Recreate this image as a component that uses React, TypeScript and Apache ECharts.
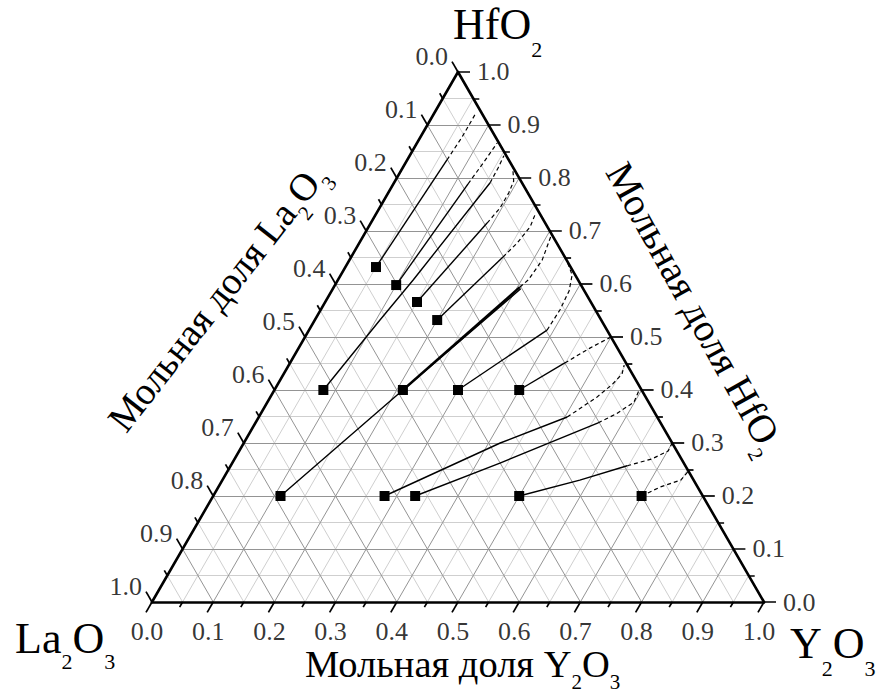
import React, { useEffect, useRef } from 'react';
import * as echarts from 'echarts';

const SQ3 = Math.sqrt(3) / 2;

// ---- axis ticks (mole fraction) ----
const majorTicks = [0, 0.1, 0.2, 0.3, 0.4, 0.5, 0.6, 0.7, 0.8, 0.9, 1.0];
const tickLabels = ['0.0', '0.1', '0.2', '0.3', '0.4', '0.5', '0.6', '0.7', '0.8', '0.9', '1.0'];
const minorTicks = [0.05, 0.15, 0.25, 0.35, 0.45, 0.55, 0.65, 0.75, 0.85, 0.95];

// ---- data: points are [Y2O3, HfO2] mole fractions (La2O3 = rest) ----
const startPoints = [
  [0.05, 0.632], [0.10, 0.598], [0.15, 0.566], [0.20, 0.532],
  [0.08, 0.40], [0.21, 0.40], [0.30, 0.40], [0.40, 0.40],
  [0.11, 0.20], [0.28, 0.20], [0.33, 0.20], [0.50, 0.20], [0.70, 0.20],
];

const pathA_solid = [[0.05, 0.632], [0.065, 0.834]];
const pathA_dash = [[0.065, 0.834], [0.068, 0.877], [0.068, 0.923]];
const pathB_solid = [[0.10, 0.598], [0.122, 0.789]];
const pathB_dash = [[0.122, 0.789], [0.127, 0.828], [0.131, 0.866]];
const pathE_solid = [[0.08, 0.40], [0.1065, 0.532], [0.123, 0.6075], [0.157, 0.791]];
const pathE_dash = [[0.157, 0.791], [0.156, 0.819], [0.154, 0.842]];
const pathC_solid = [[0.15, 0.566], [0.19, 0.715]];
const pathC_dash = [[0.19, 0.715], [0.197, 0.743], [0.197, 0.772], [0.194, 0.794], [0.18, 0.819]];
const pathD_solid = [[0.20, 0.532], [0.248, 0.651]];
const pathD_dash = [[0.248, 0.651], [0.258, 0.677], [0.264, 0.708], [0.26, 0.734]];
const pathF_solid = [[0.21, 0.40], [0.304, 0.594]];
const pathF_dash = [[0.304, 0.594], [0.311, 0.608], [0.315, 0.645], [0.306, 0.694]];
const pathI_solid = [[0.11, 0.20], [0.21, 0.40], [0.307, 0.591]];
const pathG_solid = [[0.30, 0.40], [0.389, 0.513]];
const pathG_dash = [[0.389, 0.513], [0.391, 0.551], [0.388, 0.587], [0.378, 0.617], [0.355, 0.645]];
const pathH_solid = [[0.40, 0.40], [0.449, 0.451]];
const pathH_dash = [[0.449, 0.451], [0.476, 0.479], [0.50, 0.50]];
const pathJ_solid = [[0.28, 0.20], [0.419, 0.30], [0.504, 0.349]];
const pathJ_dash = [[0.504, 0.349], [0.534, 0.387], [0.547, 0.411], [0.553, 0.43], [0.548, 0.447]];
const pathK_solid = [[0.33, 0.20], [0.4375, 0.262], [0.56, 0.338]];
const pathK_dash = [[0.56, 0.338], [0.581, 0.355], [0.599, 0.377], [0.596, 0.40]];
const pathL_solid = [[0.50, 0.20], [0.584, 0.23], [0.648, 0.257]];
const pathL_dash = [[0.648, 0.257], [0.682, 0.27], [0.701, 0.285], [0.70, 0.30]];
const pathM_dash = [[0.70, 0.20], [0.722, 0.217], [0.749, 0.23], [0.753, 0.247]];

const solidPaths = [pathA_solid, pathB_solid, pathE_solid, pathC_solid, pathD_solid, pathF_solid,
  pathI_solid, pathG_solid, pathH_solid, pathJ_solid, pathK_solid, pathL_solid];
const dashedPaths = [pathA_dash, pathB_dash, pathE_dash, pathC_dash, pathD_dash, pathF_dash,
  pathG_dash, pathH_dash, pathJ_dash, pathK_dash, pathL_dash, pathM_dash];

// ---- helpers ----
const FONT = '"Liberation Serif", "Times New Roman", serif';
const PX = 612; // pixels per unit of triangle side

function tern(p: number[]): [number, number] {
  return [p[0] + p[1] / 2, p[1] * SQ3];
}

function gridSegments(vals: number[]) {
  const segs: any[] = [];
  vals.forEach((v) => {
    segs.push({ coords: [tern([0, v]), tern([1 - v, v])] });
    segs.push({ coords: [tern([v, 0]), tern([v, 1 - v])] });
    segs.push({ coords: [tern([1 - v, 0]), tern([0, 1 - v])] });
  });
  return segs;
}

function tickSegments(vals: number[], len: number) {
  const d = len / PX;
  const segs: any[] = [];
  vals.forEach((v) => {
    const b = tern([v, 0]);
    segs.push({ coords: [b, [b[0] - 0.5 * d, b[1] - SQ3 * d]] });
    const r = tern([1 - v, v]);
    segs.push({ coords: [r, [r[0] + d, r[1]]] });
    const l = tern([0, 1 - v]);
    segs.push({ coords: [l, [l[0] - 0.5 * d, l[1] + SQ3 * d]] });
  });
  return segs;
}

function titleGroup(pieces: [string, boolean][], size: number, subSize: number, subDy: number,
  x: number, y: number, rotation: number, center: boolean) {
  const ctx = document.createElement('canvas').getContext('2d') as CanvasRenderingContext2D;
  let cur = 0;
  const kids: any[] = [];
  pieces.forEach(([t, sub]) => {
    const fs = sub ? subSize : size;
    const font = `${fs}px ${FONT}`;
    ctx.font = font;
    const w = ctx.measureText(t).width;
    kids.push({
      type: 'text', x: cur, y: sub ? subDy : 0,
      style: { text: t, font, fill: '#000', align: 'left', verticalAlign: 'middle', textAlign: 'left', textVerticalAlign: 'middle' },
    });
    cur += w;
  });
  if (center) kids.forEach((k) => { k.x -= cur / 2; });
  return { type: 'group', x, y, rotation, children: kids, silent: true };
}

export default function App() {
  const ref = useRef<HTMLDivElement>(null);
  useEffect(() => {
    if (!ref.current) return;
    const chart = echarts.init(ref.current, undefined, { renderer: 'svg' });
    const deg = Math.PI / 180;

    const labelBase = { show: true, formatter: '{b}', color: '#000', fontFamily: FONT, fontSize: 26, position: 'inside' };
    const transparent = { color: 'rgba(0,0,0,0)' };

    const series: any[] = [
      {
        type: 'lines', coordinateSystem: 'cartesian2d', silent: true, z: 1,
        lineStyle: { color: '#cfcfcf', width: 1, opacity: 1 },
        data: gridSegments(minorTicks),
      },
      {
        type: 'lines', coordinateSystem: 'cartesian2d', silent: true, z: 2,
        lineStyle: { color: '#949494', width: 1, opacity: 1 },
        data: gridSegments(majorTicks.slice(1, -1)),
      },
      {
        type: 'lines', coordinateSystem: 'cartesian2d', silent: true, z: 3,
        lineStyle: { color: '#000', width: 1.7, opacity: 1 },
        data: tickSegments(majorTicks, 12).concat(tickSegments(minorTicks, 6)),
      },
      {
        type: 'lines', coordinateSystem: 'cartesian2d', silent: true, z: 4,
        lineStyle: { color: '#000', width: 2.6, opacity: 1, cap: 'round', join: 'round' },
        data: [
          { coords: [tern([0, 0]), tern([1, 0])] },
          { coords: [tern([1, 0]), tern([0, 1])] },
          { coords: [tern([0, 1]), tern([0, 0])] },
        ],
      },
    ];

    solidPaths.forEach((p) => {
      series.push({
        type: 'line', data: p.map(tern), symbol: 'none', showSymbol: false, silent: true, z: 6,
        lineStyle: { color: '#000', width: p === pathF_solid ? 2.4 : 1.4, type: 'solid', opacity: 1 },
      });
    });
    dashedPaths.forEach((p) => {
      series.push({
        type: 'line', data: p.map(tern), symbol: 'none', showSymbol: false, silent: true, z: 6,
        lineStyle: { color: '#000', width: 1.2, type: [4, 3], opacity: 1 },
      });
    });

    series.push({
      type: 'scatter', data: startPoints.map(tern), symbol: 'rect', symbolSize: 10, silent: true, z: 8,
      itemStyle: { color: '#000', opacity: 1 },
    });

    // tick labels
    series.push({
      type: 'scatter', silent: true, z: 9, symbolSize: 1, itemStyle: transparent,
      data: majorTicks.map((v, i) => ({ value: tern([v, 0]), name: tickLabels[i] })),
      label: { ...labelBase, align: 'center', verticalAlign: 'middle', offset: [-5, 29] },
    });
    series.push({
      type: 'scatter', silent: true, z: 9, symbolSize: 1, itemStyle: transparent,
      data: majorTicks.map((v, i) => ({ value: tern([1 - v, v]), name: tickLabels[i] })),
      label: { ...labelBase, align: 'left', verticalAlign: 'middle', offset: [19, 0] },
    });
    series.push({
      type: 'scatter', silent: true, z: 9, symbolSize: 1, itemStyle: transparent,
      data: majorTicks.map((v, i) => ({ value: tern([0, 1 - v]), name: tickLabels[i] })),
      label: { ...labelBase, align: 'right', verticalAlign: 'middle', offset: [-10, -15.5] },
    });

    const graphic = [
      titleGroup([['HfO', false], ['2', true]], 44, 22, 25, 453, 24.5, 0, false),
      titleGroup([['La', false], ['2', true], ['O', false], ['3', true]], 44, 22, 23, 15, 638, 0, false),
      titleGroup([['Y', false], ['2', true], ['O', false], ['3', true]], 44, 22, 25, 790, 643, 0, false),
      titleGroup([['Мольная доля Y', false], ['2', true], ['O', false], ['3', true]], 38.5, 21, 18, 305, 664, 0, false),
      titleGroup([['Мольная доля La', false], ['2', true], ['O', false], ['3', true]], 38.5, 21, 18, 217, 297, 52 * deg, true),
      titleGroup([['Мольная доля HfO', false], ['2', true]], 39.5, 21, 18, 695, 308, -61 * deg, true),
    ];

    chart.setOption({
      animation: false,
      backgroundColor: '#fff',
      grid: { left: 29.6, right: 21.2, top: 20.6, bottom: 22.56 },
      xAxis: { type: 'value', min: -0.2, max: 1.15, show: false },
      yAxis: { type: 'value', min: -0.12, max: 0.95, show: false },
      series,
      graphic,
    });
    return () => chart.dispose();
  }, []);
  return <div ref={ref} style={{ position: 'absolute', left: 0, top: 0, width: 877, height: 698 }} />;
}
